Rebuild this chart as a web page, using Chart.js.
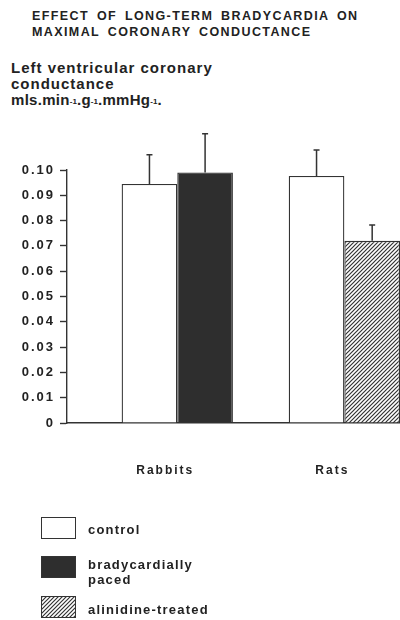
<!DOCTYPE html>
<html>
<head>
<meta charset="utf-8">
<script src="https://cdn.jsdelivr.net/npm/chart.js@4/dist/chart.umd.min.js"></script>
<style>
  body { margin: 0; width: 400px; height: 620px; overflow: hidden; background: #fff;
         position: relative; font-family: "Liberation Sans", Arial, sans-serif; font-weight: bold; color: #222; }
  #grafico { position: absolute; left: 0; top: 0; }
  .titulo { position: absolute; left: 32px; top: 8px; font-size: 12.5px; line-height: 16px;
            letter-spacing: 1.4px; word-spacing: 3px; white-space: nowrap; }
  .eixo { position: absolute; left: 11px; top: 60px; font-size: 15px; line-height: 16px;
          letter-spacing: 1px; white-space: nowrap; }
  .eixo .unid { letter-spacing: 0.3px; }
  .eixo span span { font-size: 8px; letter-spacing: 0; vertical-align: 1px; }
  .item { position: absolute; left: 41px; }
  .item .caixa { position: absolute; left: 0; top: 0; width: 35px; height: 22px; box-sizing: border-box;
                 border: 1.5px solid #333; }
  .item .nome { position: absolute; left: 47px; font-size: 13px; line-height: 15px;
                letter-spacing: 1.2px; white-space: nowrap; }
  .item:nth-child(1) { top: 517px; }
  .item:nth-child(1) .nome { top: 5px; }
  .item:nth-child(2) { top: 556px; }
  .item:nth-child(2) .nome { top: 1px; width: 120px; white-space: normal; }
  .item:nth-child(3) { top: 596px; }
  .item:nth-child(3) .nome { top: 6px; }
</style>
</head>
<body>
<div class="titulo">EFFECT OF LONG-TERM BRADYCARDIA ON<br>MAXIMAL CORONARY CONDUCTANCE</div>
<div class="eixo">Left ventricular coronary<br>conductance<br><span class="unid">mls.min<span>-1</span>.g<span>-1</span>.mmHg<span>-1</span>.</span></div>
<canvas id="grafico" width="400" height="620"></canvas>
<div id="legenda"></div>
<script>
// Dados
const categorias = ['Rabbits', 'Rats'];
const series = ['control', 'bradycardially paced', 'alinidine-treated'];
const controle = [0.0945, 0.0976];
const controleErro = [0.0115, 0.0103];
const estimulado = [0.099, null];
const estimuladoErro = [0.0153, null];
const alinidina = [null, 0.072];
const alinidinaErro = [null, 0.0063];
const marcasY = ['0', '0.01', '0.02', '0.03', '0.04', '0.05', '0.06', '0.07', '0.08', '0.09', '0.10'];

// Padrão hachurado (////)
const tile = document.createElement('canvas');
tile.width = 4; tile.height = 4;
const g = tile.getContext('2d');
g.fillStyle = '#fff';
g.fillRect(0, 0, 4, 4);
g.strokeStyle = '#333';
g.lineWidth = 1.2;
g.beginPath();
g.moveTo(0, 4); g.lineTo(4, 0);
g.moveTo(-1, 1); g.lineTo(1, -1);
g.moveTo(3, 5); g.lineTo(5, 3);
g.stroke();
const hachura = g.createPattern(tile, 'repeat');

const cores = ['#fff', '#2e2e2e', hachura];
const fundosLegenda = ['#fff', '#2e2e2e', 'url(' + tile.toDataURL() + ')'];

// Legenda em HTML
const legenda = document.getElementById('legenda');
series.forEach((nome, i) => {
    const item = document.createElement('div');
    item.className = 'item';
    item.innerHTML = '<div class="caixa" style="background:' + fundosLegenda[i] + '"></div><div class="nome">' + nome + '</div>';
    legenda.appendChild(item);
});

const pontos = (valores) => valores.map((v, i) => ({ x: i, y: v }));

// Barras de erro (só para cima)
const barrasErro = {
    id: 'barrasErro',
    afterDatasetsDraw(chart) {
        const ctx = chart.ctx;
        const escalaY = chart.scales.y;
        chart.data.datasets.forEach((ds, i) => {
            const meta = chart.getDatasetMeta(i);
            meta.data.forEach((barra, j) => {
                const v = ds.data[j].y;
                const e = ds.erros[j];
                if (v == null || e == null) return;
                const topo = escalaY.getPixelForValue(v + e);
                ctx.save();
                ctx.strokeStyle = '#333';
                ctx.lineWidth = 1.5;
                ctx.beginPath();
                ctx.moveTo(barra.x, barra.y);
                ctx.lineTo(barra.x, topo);
                ctx.moveTo(barra.x - 3, topo);
                ctx.lineTo(barra.x + 3, topo);
                ctx.stroke();
                ctx.restore();
            });
        });
    }
};

// Espaçamento entre letras no canvas
const espacamento = {
    id: 'espacamento',
    beforeDraw(chart) { chart.ctx.letterSpacing = '2px'; }
};

const ctx = document.getElementById('grafico').getContext('2d');
const grafico = new Chart(ctx, {
    type: 'bar',
    data: {
        datasets: [
            { label: series[0], data: pontos(controle), erros: controleErro, backgroundColor: cores[0] },
            { label: series[1], data: pontos(estimulado), erros: estimuladoErro, backgroundColor: cores[1] },
            { label: series[2], data: pontos(alinidina), erros: alinidinaErro, backgroundColor: cores[2] }
        ]
    },
    options: {
        responsive: false,
        animation: false,
        skipNull: true,
        categoryPercentage: 0.666,
        barPercentage: 1,
        borderColor: '#333',
        borderWidth: 1.3,
        layout: { padding: { top: 170, left: 0, right: 0, bottom: 137 } },
        plugins: { legend: { display: false }, tooltip: { enabled: false } },
        scales: {
            x: {
                type: 'linear',
                offset: false,
                min: -0.66,
                max: 1.333,
                afterBuildTicks: (eixo) => { eixo.ticks = categorias.map((c, i) => ({ value: i })); },
                afterFit: (eixo) => { eixo.height = 60; },
                grid: { display: false, offset: false },
                border: { display: true, color: '#333', width: 1.4 },
                ticks: {
                    callback: (v) => categorias[v],
                    padding: 32,
                    labelOffset: -12,
                    maxRotation: 0,
                    color: '#222',
                    font: { family: 'Liberation Sans', size: 12, weight: 'bold' }
                }
            },
            y: {
                min: 0,
                max: 0.1,
                afterBuildTicks: (eixo) => { eixo.ticks = marcasY.map(t => ({ value: parseFloat(t) })); },
                afterFit: (eixo) => { eixo.width = 67; },
                grid: { drawOnChartArea: false, tickLength: 7, tickColor: '#333', tickWidth: 1.4 },
                border: { display: true, color: '#333', width: 1.4 },
                ticks: {
                    callback: (v, i) => marcasY[i],
                    padding: 5,
                    color: '#222',
                    font: { family: 'Liberation Sans', size: 13, weight: 'bold' }
                }
            }
        }
    },
    plugins: [barrasErro, espacamento]
});
</script>
</body>
</html>
